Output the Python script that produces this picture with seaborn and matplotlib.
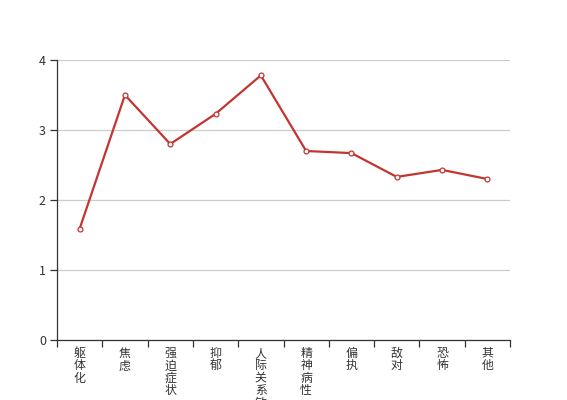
import numpy as np
import pandas as pd
import seaborn as sns
import matplotlib
matplotlib.use("Agg")
import matplotlib.pyplot as plt

# factor scores
factors = ['躯体化', '焦虑', '强迫症状', '抑郁', '人际关系敏感',
           '精神病性', '偏执', '敌对', '恐怖', '其他']
scores = [1.59, 3.50, 2.80, 3.23, 3.78, 2.70, 2.67, 2.33, 2.43, 2.30]
y_ticks = [0, 1, 2, 3, 4]

sns.set_style("white")
plt.rcParams['font.family'] = ['Noto Sans CJK SC', 'DejaVu Sans']

df = pd.DataFrame({'pos': np.arange(len(factors)), 'score': scores})

fig = plt.figure(figsize=(5.67, 4), dpi=100, facecolor='white')
ax = fig.add_axes([57/567, 60/400, (510-57)/567, 280/400])

red = '#c23531'
sns.lineplot(data=df, x='pos', y='score', ax=ax, color=red, linewidth=1.6,
             marker='o', markersize=3.5, markerfacecolor='white',
             markeredgecolor=red, markeredgewidth=0.9, zorder=3)

ax.set_xlim(-0.5, len(factors) - 0.5)
ax.set_ylim(0, 4)
ax.set_yticks(y_ticks)
ax.set_yticklabels([str(t) for t in y_ticks])
ax.yaxis.grid(True, color='#cccccc', linewidth=0.9)
ax.xaxis.grid(False)

# boundary ticks + centred vertical labels
ax.set_xticks(np.arange(len(factors) + 1) - 0.5)
ax.set_xticklabels([])
ax.set_xticks(np.arange(len(factors)), minor=True)
ax.set_xticklabels(['\n'.join(f) for f in factors], minor=True,
                   va='top', linespacing=0.94)
ax.tick_params(axis='x', which='minor', length=0, pad=5, labelsize=8.6,
               labelcolor='#333333')
ax.tick_params(axis='x', which='major', length=5, width=0.9, color='#333333',
               direction='out', bottom=True)
ax.tick_params(axis='y', length=5, width=0.9, color='#333333', direction='out',
               left=True, labelsize=9, labelcolor='#333333', pad=3)

for s in ['top', 'right']:
    ax.spines[s].set_visible(False)
for s in ['left', 'bottom']:
    ax.spines[s].set_color('#333333')
    ax.spines[s].set_linewidth(0.9)

ax.set_xlabel('')
ax.set_ylabel('')

plt.savefig('out.png', dpi=100)
